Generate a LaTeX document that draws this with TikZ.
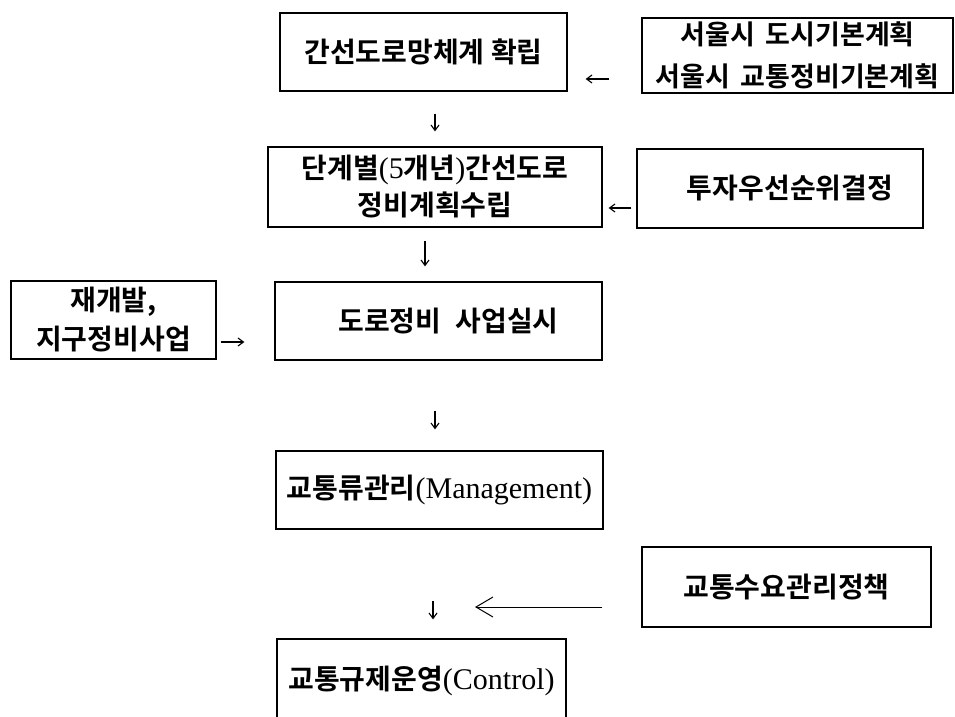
\documentclass[tikz,border=0pt]{standalone}
\usepackage{fontspec}
\usetikzlibrary{arrows.meta}
\newfontfamily\krfont{Noto Sans CJK KR Bold}
\newfontfamily\latfont{Liberation Serif}
\newcommand{\lat}[1]{{\latfont\fontsize{30}{36}\selectfont #1}}

\begin{document}
\begin{tikzpicture}[x=1pt,y=-1pt,
	box/.style={draw, line width=1.2pt, inner sep=0pt, align=center, font=\krfont\fontsize{28}{37}\selectfont},
	flow/.style={-{Straight Barb[length=5.5pt,width=8pt]}, line width=1.1pt},
	feed/.style={-{Straight Barb[length=17pt,width=20pt]}, line width=1pt}]
	
	\useasboundingbox (0,0) rectangle (955,716);
	
	% main column
	\node[box, minimum width=287pt, minimum height=78pt] (net) at (423.5,52) {간선도로망체계 확립};
	\node[box, minimum width=334pt, minimum height=80pt] (plan) at (435,187) {단계별\lat{(5}개년\lat{)}간선도로\\정비계획수립};
	\node[box, minimum width=327pt, minimum height=78pt] (project) at (438.5,321) {\hspace*{20pt}도로정비\enspace 사업실시};
	\node[box, minimum width=327pt, minimum height=78pt] (mgmt) at (439.5,490) {교통류관리\lat{(Management)}};
	\node[box, minimum width=289pt, minimum height=83pt] (control) at (421.5,680.5) {교통규제운영\lat{(Control)}};
	
	% inputs
	\node[box, minimum width=311pt, minimum height=75pt, font=\krfont\fontsize{27}{36}\selectfont] (seoul) at (797.5,55.5) {서울시\hspace{0.4em}도시기본계획\\[6pt]서울시\hspace{0.4em}교통정비기본계획};
	\node[box, minimum width=286pt, minimum height=79pt] (prio) at (780,188.5) {\hspace*{20pt}투자우선순위결정};
	\node[box, minimum width=205pt, minimum height=78pt] (redev) at (113.5,320) {재개발,\\[2pt]지구정비사업};
	\node[box, minimum width=289pt, minimum height=80pt] (demand) at (786.5,587) {교통수요관리정책};
	
	\coordinate (join) at (475,607);
	
	\draw[flow, shorten <=22pt, shorten >=15pt] (net.south -| plan.north) -- (plan.north);
	\draw[flow, shorten <=13pt, shorten >=15pt] (plan.south -| 425,0) -- (project.north -| 425,0);
	\draw[flow, shorten <=50pt, shorten >=21pt] (project.south -| 435,0) -- (mgmt.north -| 435,0);
	\draw[flow, shorten <=71pt, shorten >=19pt] (mgmt.south -| 433,0) -- (control.north -| 433,0);
	
	\draw[flow, shorten <=32pt, shorten >=18pt] (seoul.west |- 0,79) -- (net.east |- 0,79);
	\draw[flow, shorten <=5pt, shorten >=6pt] (prio.west |- 0,208) -- (plan.east |- 0,208);
	\draw[flow, shorten <=4pt, shorten >=30pt] (redev.east |- 0,342) -- (project.west |- 0,342);
	\draw[feed, shorten <=39pt] (demand.west |- join) -- (join);
	
\end{tikzpicture}
\end{document}
